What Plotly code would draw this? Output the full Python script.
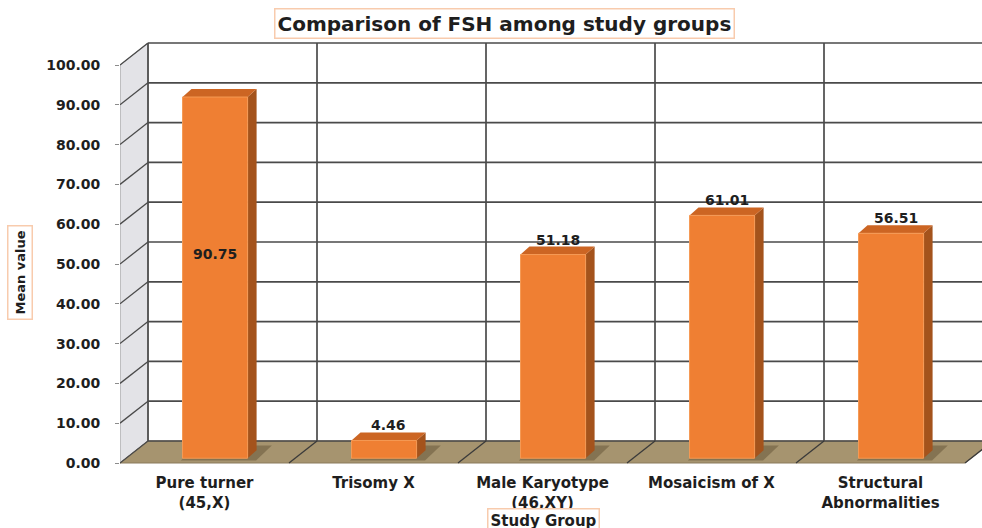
import plotly.graph_objects as go

# ---------------- data ----------------
categories = ["Pure turner<br>(45,X)", "Trisomy X", "Male Karyotype<br>(46,XY)",
              "Mosaicism of X", "Structural<br>Abnormalities"]
mean_values = [90.75, 4.46, 51.18, 61.01, 56.51]
value_labels = ["90.75", "4.46", "51.18", "61.01", "56.51"]
y_ticks = [0, 10, 20, 30, 40, 50, 60, 70, 80, 90, 100]
y_tick_labels = ["%.2f" % v for v in y_ticks]

# ---------------- geometry (style) ----------------
W, H = 982, 528
ML, MR, MT, MB = 120, 0, 40, 58
slot_px = 169.0
px_per_unit = 3.98
x0 = -0.5
x1 = x0 + (W - ML - MR) / slot_px
y_zero_px = 463
y_lo = -(H - MB - y_zero_px) / px_per_unit
y_hi = (y_zero_px - MT) / px_per_unit

dx = 28 / slot_px          # depth offset of back wall (x units)
dy = 22 / px_per_unit      # depth offset of back wall (y units)
bar_off = -0.13
bar_w = 0.385
bar_base = 1.2
bdx = 9 / slot_px
bdy = 8 / px_per_unit

FONT = "DejaVu Sans"
TXT = "#1e1e1e"
GRID = "#4a4a4a"

n = len(categories)
xs = list(range(n))

shapes = []


def poly(pts, fill, line_color=None, lw=0, layer="below"):
    path = "M " + " L ".join(f"{x},{y}" for x, y in pts) + " Z"
    shapes.append(dict(type="path", path=path, xref="x", yref="y",
                       fillcolor=fill, line=dict(color=line_color or fill, width=lw),
                       layer=layer))


def seg(xa, ya, xb, yb, color=GRID, w=1.7):
    shapes.append(dict(type="line", x0=xa, y0=ya, x1=xb, y1=yb, xref="x", yref="y",
                       line=dict(color=color, width=w), layer="below"))


top_v = y_ticks[-1]
# back wall
poly([(x0 + dx, dy), (x1 + 0.2, dy), (x1 + 0.2, top_v + dy), (x0 + dx, top_v + dy)], "white")
# side wall
poly([(x0, 0), (x0 + dx, dy), (x0 + dx, top_v + dy), (x0, top_v)], "#e3e3e7", "#9a9a9a", 1)
# floor
x_end = x0 + n
poly([(x0, 0), (x_end, 0), (x_end + dx, dy), (x0 + dx, dy)], "#a6946f", "#8a7a5c", 1)

# gridlines on back & side walls
for v in y_ticks:
    seg(x0 + dx, v + dy, x1 + 0.2, v + dy)
    seg(x0, v, x0 + dx, v + dy, GRID, 1.3)
# vertical dividers on back wall and floor
for k in range(n + 1):
    xb = x0 + k + dx
    seg(xb, dy, xb, top_v + dy)
    if k > 0:
        seg(x0 + k, 0, xb, dy, "#3a3a3a", 1.3)

# bar 3D faces + shadows
for i, v in enumerate(mean_values):
    xl = i + bar_off
    xr = xl + bar_w
    top = bar_base + v
    # soft shadow on floor
    poly([(xl - 0.01, bar_base - 0.6), (xr + 0.05, bar_base - 0.6),
          (xr + bdx + 0.09, bar_base + bdy + 1.2), (xl + bdx + 0.03, bar_base + bdy + 1.2)],
         "rgba(70,55,30,0.35)")
    # right side face
    poly([(xr, bar_base), (xr + bdx, bar_base + bdy), (xr + bdx, top + bdy), (xr, top)],
         "#a4531c")
    # top face
    poly([(xl, top), (xl + bdx, top + bdy), (xr + bdx, top + bdy), (xr, top)],
         "#cc6523")

fig = go.Figure()
fig.add_trace(go.Bar(
    x=xs, y=mean_values, base=bar_base, width=bar_w, offset=bar_off,
    marker=dict(color="#ef7f33", line=dict(color="#f59a55", width=1)),
    hoverinfo="skip", showlegend=False,
))

annotations = []
for i, (v, lab) in enumerate(zip(mean_values, value_labels)):
    xc = i + bar_off + bar_w / 2 + bdx / 2
    top = bar_base + v
    if v > 85:
        annotations.append(dict(x=i + bar_off + bar_w / 2, y=(bar_base + top) / 2 + 6,
                                xref="x", yref="y", xanchor="center", yanchor="middle",
                                text=f"<b>{lab}</b>", showarrow=False,
                                font=dict(family=FONT, size=14, color=TXT)))
    else:
        annotations.append(dict(x=xc, y=top, xref="x", yref="y", xanchor="center",
                                yanchor="bottom", yshift=5, text=f"<b>{lab}</b>",
                                showarrow=False,
                                font=dict(family=FONT, size=14, color=TXT)))

plot_w = W - ML - MR
plot_h = H - MT - MB
# chart title
annotations.append(dict(
    x=(504 - ML) / plot_w, y=(H - MB - 23) / plot_h, xref="paper", yref="paper",
    xanchor="center", yanchor="middle",
    text="<b>Comparison of FSH among study groups</b>", showarrow=False,
    font=dict(family=FONT, size=20, color=TXT),
    bordercolor="#f8cbad", borderwidth=1.5, borderpad=2, bgcolor="white"))
# x axis title
annotations.append(dict(
    x=(543 - ML) / plot_w, y=(H - MB - 520) / plot_h, xref="paper", yref="paper",
    xanchor="center", yanchor="middle",
    text="<b>Study Group</b>", showarrow=False,
    font=dict(family=FONT, size=15, color=TXT),
    bordercolor="#f8cbad", borderwidth=1.5, borderpad=2, bgcolor="white"))
# y axis title
annotations.append(dict(
    x=(20 - ML) / plot_w, y=(H - MB - 273) / plot_h, xref="paper", yref="paper",
    xanchor="center", yanchor="middle",
    text="<b>Mean value</b>", showarrow=False, textangle=-90,
    font=dict(family=FONT, size=13, color=TXT),
    bordercolor="#f8cbad", borderwidth=1.5, borderpad=4, bgcolor="white"))

fig.update_layout(
    width=W, height=H,
    margin=dict(l=ML, r=MR, t=MT, b=MB, pad=0),
    paper_bgcolor="white", plot_bgcolor="white",
    shapes=shapes, annotations=annotations,
    xaxis=dict(range=[x0, x1], tickvals=xs, ticktext=[f"<b>{c}</b>" for c in categories],
               showgrid=False, zeroline=False, showline=False, ticks="",
               ticklabelstandoff=2,
               tickfont=dict(family=FONT, size=15, color=TXT), fixedrange=True),
    yaxis=dict(range=[y_lo, y_hi], tickvals=y_ticks,
               ticktext=[f"<b>{t}</b>" for t in y_tick_labels],
               showgrid=False, zeroline=False, showline=False,
               ticks="outside", ticklen=4, tickcolor="#8c8c8c", tickwidth=1,
               ticklabelstandoff=12,
               tickfont=dict(family=FONT, size=14, color=TXT), fixedrange=True),
    font=dict(family=FONT, color=TXT),
)

fig.write_html("out.html")
